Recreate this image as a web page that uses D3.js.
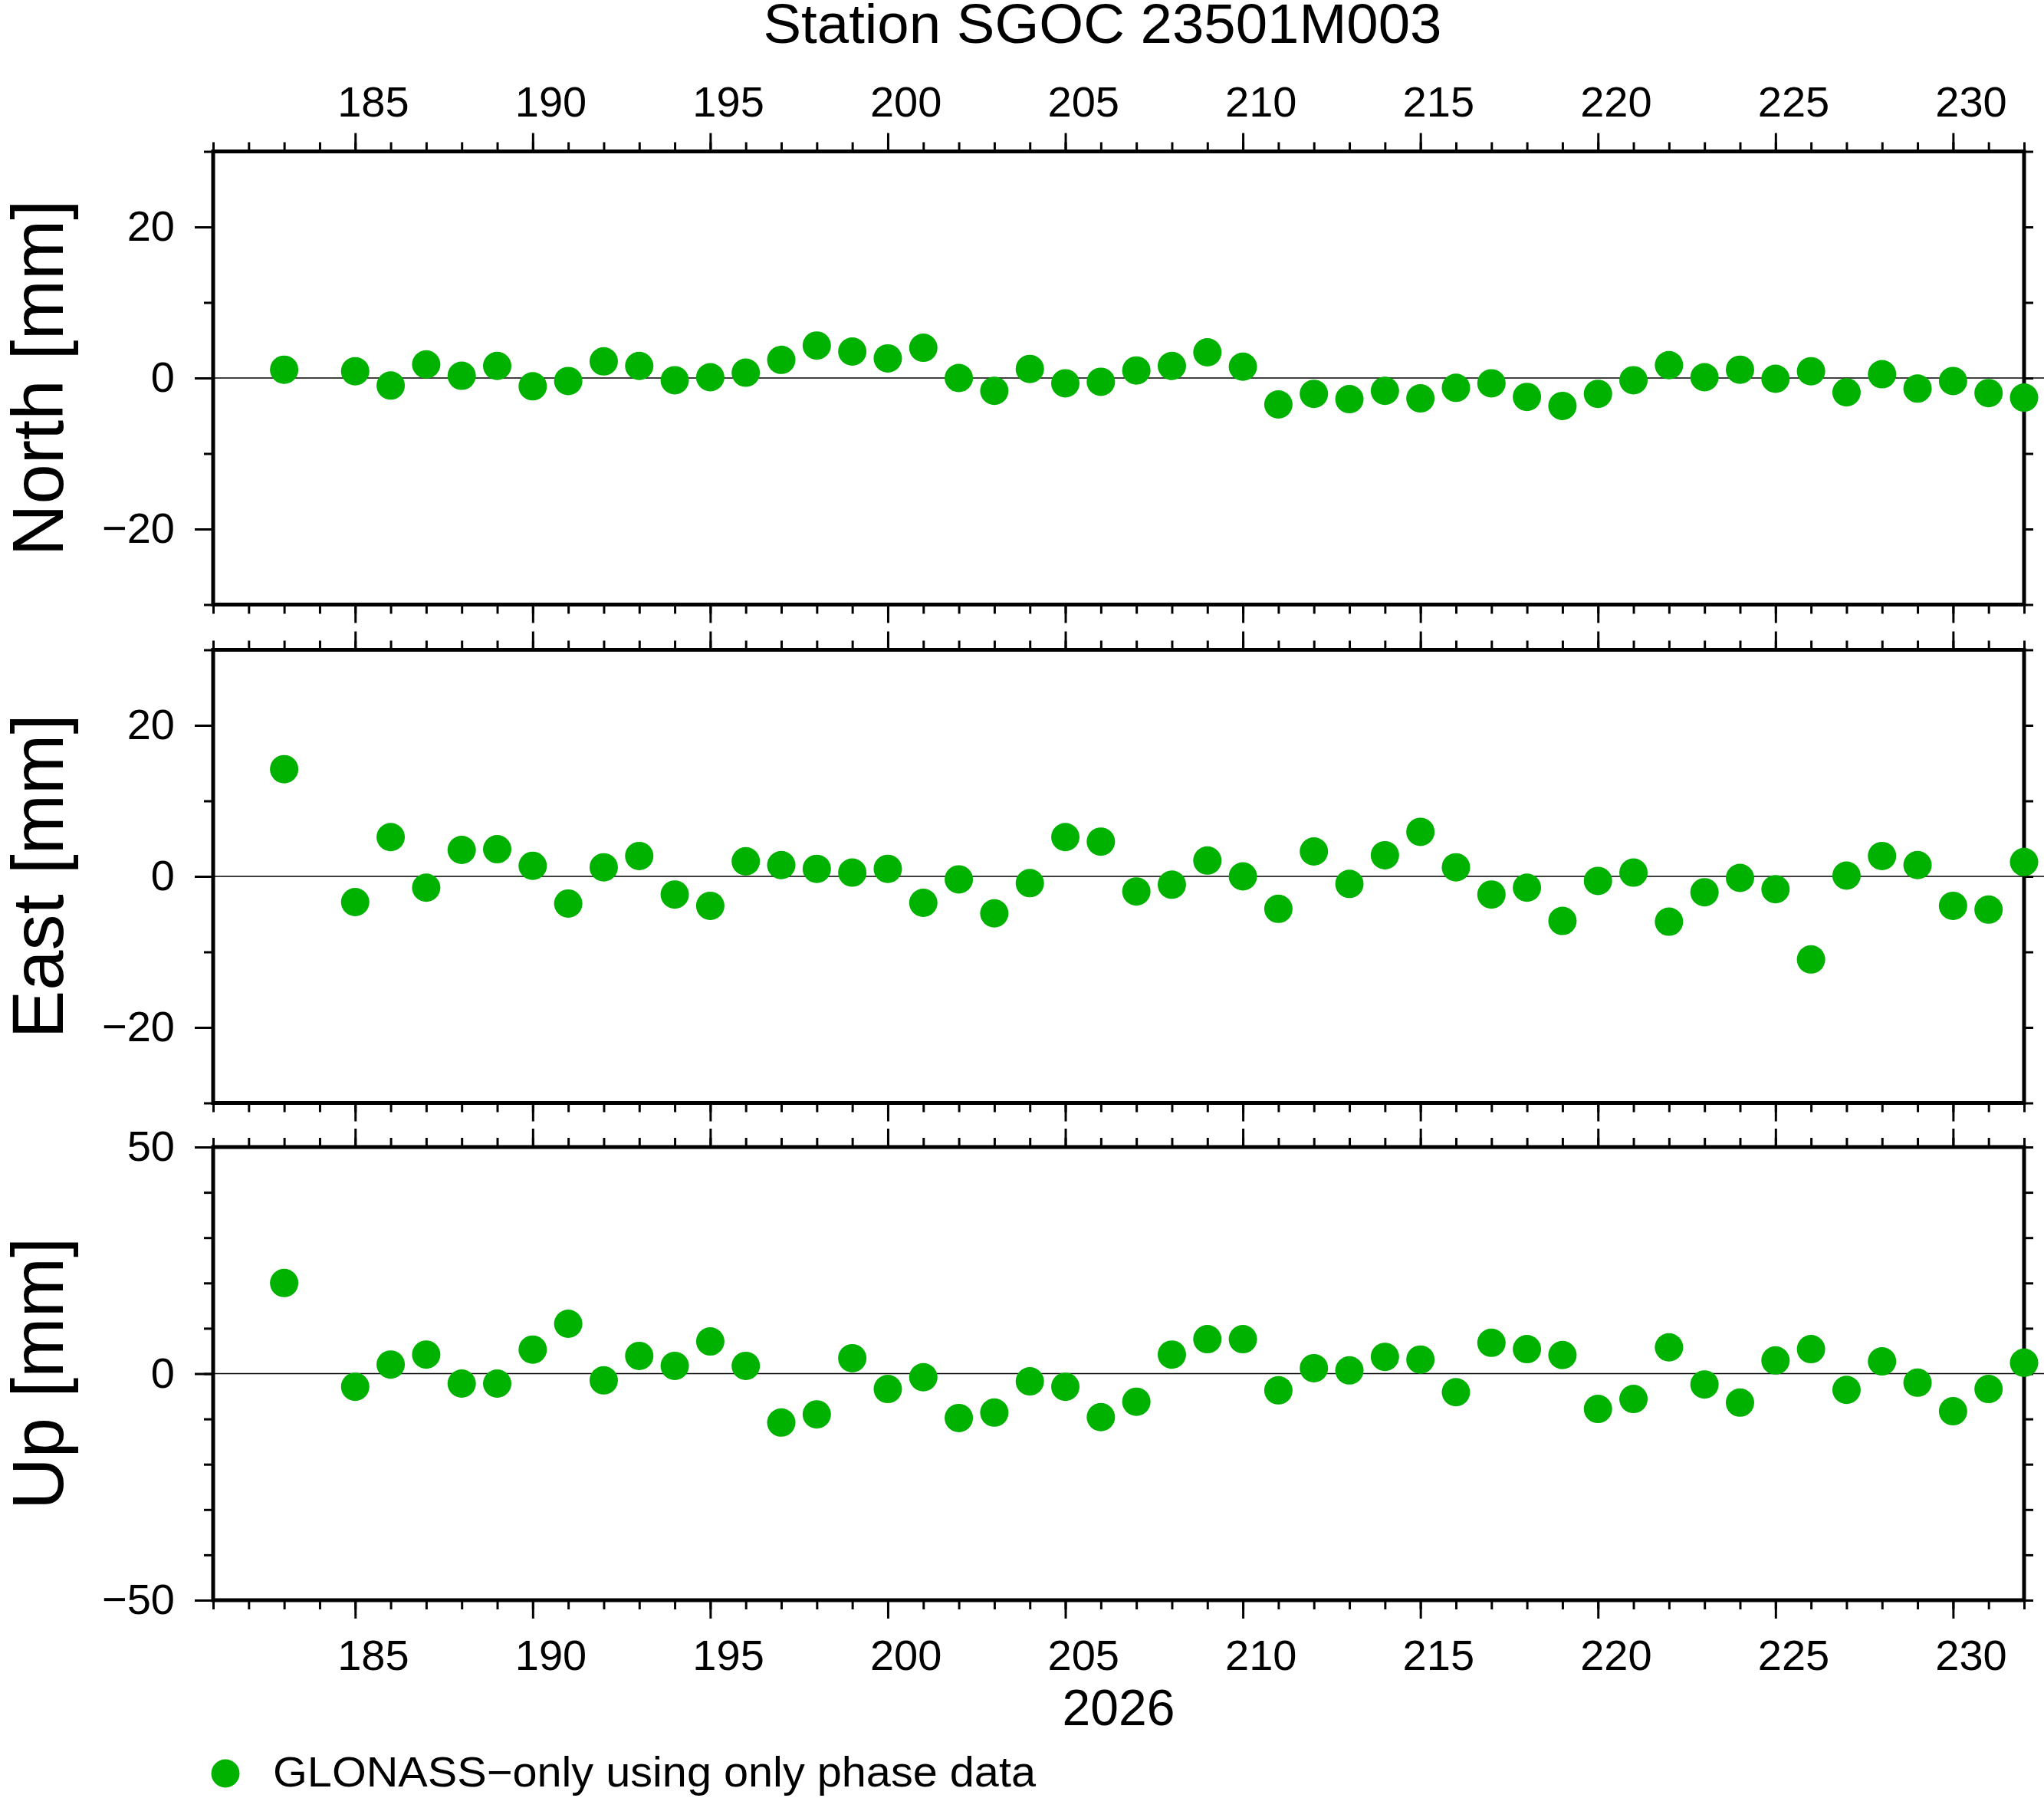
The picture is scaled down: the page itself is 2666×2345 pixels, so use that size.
<!DOCTYPE html>
<html>
<head>
<meta charset="utf-8">
<script src="https://cdn.jsdelivr.net/npm/d3@7"></script>
<style>
  body { margin: 0; background: #fff; }
  text { font-family: "Liberation Sans", Arial, Helvetica, sans-serif; fill: #000; }
</style>
</head>
<body>
<svg id="chart" width="2666" height="2345"></svg>
<script>
// day of year 2026 (no solution on 184)
const days = [183, 185, 186, 187, 188, 189, 190, 191, 192, 193, 194, 195, 196, 197, 198, 199, 200,
  201, 202, 203, 204, 205, 206, 207, 208, 209, 210, 211, 212, 213, 214, 215, 216, 217, 218, 219, 220,
  221, 222, 223, 224, 225, 226, 227, 228, 229, 230, 231, 232];

// residuals in mm
const north = [1.1, 0.9, -1.0, 1.8, 0.3, 1.6, -1.1, -0.4, 2.2, 1.6, -0.3, 0.1, 0.7, 2.4, 4.3, 3.5, 2.6,
  4.0, 0.0, -1.7, 1.2, -0.7, -0.5, 1.0, 1.6, 3.4, 1.5, -3.5, -2.1, -2.8, -1.7, -2.7, -1.3, -0.7, -2.5, -3.7, -2.1,
  -0.3, 1.7, 0.1, 1.1, -0.1, 0.9, -1.9, 0.5, -1.4, -0.4, -2.0, -2.6];
const east = [14.2, -3.4, 5.2, -1.5, 3.5, 3.6, 1.4, -3.6, 1.2, 2.7, -2.4, -3.9, 2.0, 1.5, 1.0, 0.5, 1.0,
  -3.5, -0.4, -4.9, -0.9, 5.2, 4.6, -2.0, -1.1, 2.1, 0.0, -4.3, 3.3, -1.0, 2.8, 5.9, 1.2, -2.4, -1.5, -5.9, -0.6,
  0.5, -6.0, -2.1, -0.2, -1.7, -11.0, 0.1, 2.7, 1.5, -3.9, -4.4, 1.9];
const up = [20.0, -2.9, 2.0, 4.2, -2.2, -2.2, 5.3, 11.0, -1.5, 3.9, 1.7, 7.1, 1.7, -10.8, -9.0, 3.4, -3.4,
  -0.8, -9.8, -8.6, -1.7, -2.9, -9.6, -6.2, 4.2, 7.6, 7.6, -3.7, 1.2, 0.7, 3.7, 3.1, -4.1, 6.8, 5.4, 4.1, -7.8,
  -5.6, 5.8, -2.4, -6.4, 2.9, 5.4, -3.6, 2.7, -2.0, -8.3, -3.4, 2.4];

const xDomain = [181, 232];
const xMajor = [185, 190, 195, 200, 205, 210, 215, 220, 225, 230];
const xMinor = [181, 182, 183, 184, 185, 186, 187, 188, 189, 190, 191, 192, 193, 194, 195, 196, 197, 198,
  199, 200, 201, 202, 203, 204, 205, 206, 207, 208, 209, 210, 211, 212, 213, 214, 215, 216, 217, 218, 219,
  220, 221, 222, 223, 224, 225, 226, 227, 228, 229, 230, 231, 232];

const neMajor = [-20, 0, 20];
const neMinor = [-30, -20, -10, 0, 10, 20, 30];
const upMajor = [-50, 0, 50];
const upMinor = [-50, -40, -30, -20, -10, 0, 10, 20, 30, 40, 50];

const panels = [
  { label: "North [mm]", values: north, domain: [-30, 30], major: neMajor, minor: neMinor },
  { label: "East [mm]", values: east, domain: [-30, 30], major: neMajor, minor: neMinor },
  { label: "Up [mm]", values: up, domain: [-50, 50], major: upMajor, minor: upMinor }
];

const W = 2666, H = 2345;
const left = 278, right = 2640;
const panelTop = [197.5, 847.5, 1496];
const panelH = 591;
const green = "rgb(0,178,0)";
const tickFont = 56;

const svg = d3.select("#chart");
svg.append("rect").attr("width", W).attr("height", H).attr("fill", "#fff");

const x = d3.scaleLinear().domain(xDomain).range([left, right]);
const halfDay = x(xDomain[0] + 0.5) - x(xDomain[0]);

// style helper for axis groups
function tidy(g) {
  g.select(".domain").remove();
  g.selectAll(".tick line").attr("stroke", "#000").attr("stroke-width", 3);
  g.selectAll(".tick text").attr("font-size", tickFont).attr("fill", "#000");
}

panels.forEach((p, i) => {
  const top = panelTop[i];
  const bottom = top + panelH;
  const y = d3.scaleLinear().domain(p.domain).range([bottom, top]);
  const g = svg.append("g");

  // zero line
  g.append("line")
    .attr("x1", left).attr("x2", W)
    .attr("y1", y(0)).attr("y2", y(0))
    .attr("stroke", "#000").attr("stroke-width", 1.5);

  // x ticks, top edge
  g.append("g").attr("transform", `translate(0,${top})`)
    .call(d3.axisTop(x).tickValues(xMinor).tickSize(12).tickFormat(""))
    .call(tidy);
  const xt = g.append("g").attr("transform", `translate(0,${top})`)
    .call(d3.axisTop(x).tickValues(xMajor).tickSize(24).tickPadding(22)
      .tickFormat(i === 0 ? d3.format("d") : ""))
    .call(tidy);
  xt.selectAll(".tick text").attr("x", halfDay);

  // x ticks, bottom edge
  g.append("g").attr("transform", `translate(0,${bottom})`)
    .call(d3.axisBottom(x).tickValues(xMinor).tickSize(12).tickFormat(""))
    .call(tidy);
  const xb = g.append("g").attr("transform", `translate(0,${bottom})`)
    .call(d3.axisBottom(x).tickValues(xMajor).tickSize(24).tickPadding(27)
      .tickFormat(i === 2 ? d3.format("d") : ""))
    .call(tidy);
  xb.selectAll(".tick text").attr("x", halfDay);

  // y ticks left (labelled) and right
  g.append("g").attr("transform", `translate(${left},0)`)
    .call(d3.axisLeft(y).tickValues(p.minor).tickSize(12).tickFormat(""))
    .call(tidy);
  g.append("g").attr("transform", `translate(${left},0)`)
    .call(d3.axisLeft(y).tickValues(p.major).tickSize(24).tickPadding(26).tickFormat(d3.format("d")))
    .call(tidy);
  g.append("g").attr("transform", `translate(${right},0)`)
    .call(d3.axisRight(y).tickValues(p.minor).tickSize(12).tickFormat(""))
    .call(tidy);

  // frame
  g.append("rect")
    .attr("x", left).attr("y", top)
    .attr("width", right - left).attr("height", panelH)
    .attr("fill", "none").attr("stroke", "#000").attr("stroke-width", 5);

  // points
  g.selectAll("circle.pt")
    .data(days.map((d, k) => [d, p.values[k]]))
    .join("circle")
    .attr("class", "pt")
    .attr("cx", d => x(d[0]))
    .attr("cy", d => y(d[1]))
    .attr("r", 18.5)
    .attr("fill", green);

  // y label
  g.append("text")
    .attr("transform", `translate(82,${(top + bottom) / 2}) rotate(-90)`)
    .attr("text-anchor", "middle")
    .attr("font-size", 94)
    .text(p.label);
});

// title
svg.append("text")
  .attr("x", 1438).attr("y", 56)
  .attr("text-anchor", "middle")
  .attr("font-size", 72)
  .attr("textLength", 885).attr("lengthAdjust", "spacingAndGlyphs")
  .text("Station SGOC 23501M003");

// year label
svg.append("text")
  .attr("x", (left + right) / 2).attr("y", 2250)
  .attr("text-anchor", "middle")
  .attr("font-size", 66)
  .text("2026");

// legend
svg.append("circle").attr("cx", 294).attr("cy", 2313).attr("r", 18.5).attr("fill", green);
svg.append("text")
  .attr("x", 356).attr("y", 2330)
  .attr("font-size", 55)
  .attr("textLength", 995).attr("lengthAdjust", "spacingAndGlyphs")
  .text("GLONASS\u2212only using only phase data");
</script>
</body>
</html>
